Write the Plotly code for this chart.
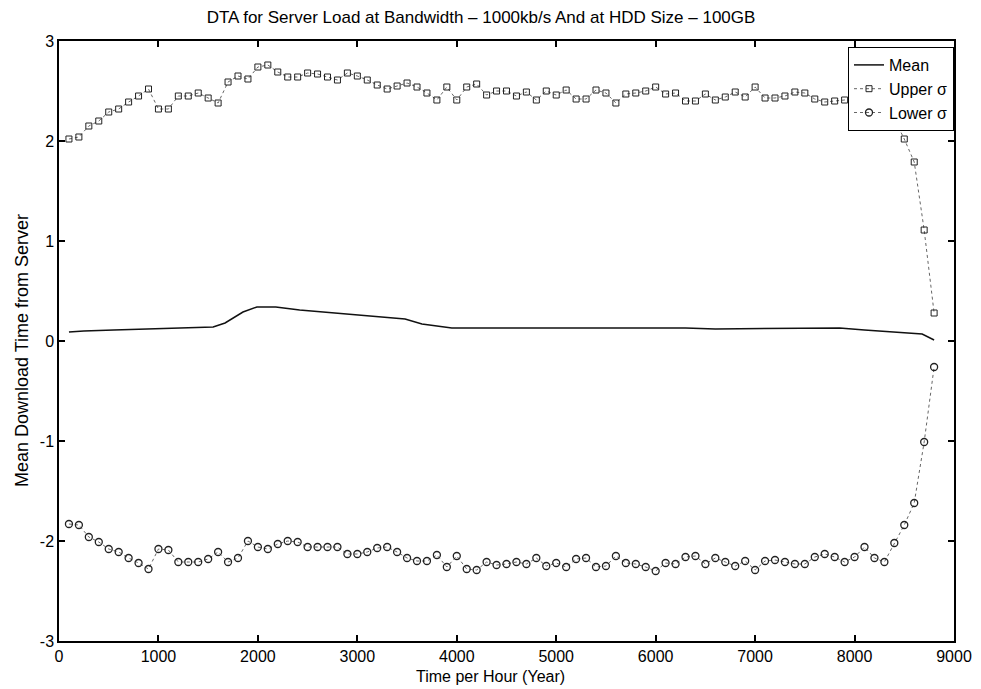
import plotly.graph_objects as go

# x grid of sampled markers (hours)
hours = [100, 200, 300, 400, 500, 600, 700, 800, 900, 1000,
         1100, 1200, 1300, 1400, 1500, 1600, 1700, 1800, 1900, 2000,
         2100, 2200, 2300, 2400, 2500, 2600, 2700, 2800, 2900, 3000,
         3100, 3200, 3300, 3400, 3500, 3600, 3700, 3800, 3900, 4000,
         4100, 4200, 4300, 4400, 4500, 4600, 4700, 4800, 4900, 5000,
         5100, 5200, 5300, 5400, 5500, 5600, 5700, 5800, 5900, 6000,
         6100, 6200, 6300, 6400, 6500, 6600, 6700, 6800, 6900, 7000,
         7100, 7200, 7300, 7400, 7500, 7600, 7700, 7800, 7900, 8000,
         8100, 8200, 8300, 8400, 8500, 8600, 8700, 8800]

upper_sigma = [2.02, 2.04, 2.15, 2.20, 2.29, 2.32, 2.39, 2.45, 2.52, 2.32,
               2.32, 2.45, 2.45, 2.48, 2.43, 2.38, 2.59, 2.65, 2.62, 2.74,
               2.76, 2.69, 2.64, 2.64, 2.68, 2.67, 2.64, 2.61, 2.68, 2.65,
               2.61, 2.56, 2.52, 2.55, 2.58, 2.54, 2.48, 2.41, 2.54, 2.41,
               2.54, 2.57, 2.46, 2.50, 2.50, 2.45, 2.49, 2.41, 2.50, 2.46,
               2.51, 2.42, 2.42, 2.51, 2.48, 2.38, 2.47, 2.48, 2.50, 2.54,
               2.47, 2.48, 2.40, 2.40, 2.47, 2.41, 2.44, 2.49, 2.44, 2.54,
               2.43, 2.43, 2.45, 2.49, 2.48, 2.42, 2.39, 2.40, 2.41, 2.36,
               2.26, 2.37, 2.41, 2.22, 2.02, 1.79, 1.11, 0.28]

lower_sigma = [-1.83, -1.84, -1.96, -2.01, -2.08, -2.11, -2.17, -2.22, -2.28, -2.08,
               -2.09, -2.21, -2.21, -2.21, -2.18, -2.11, -2.21, -2.17, -2.00, -2.06,
               -2.08, -2.03, -2.00, -2.01, -2.06, -2.06, -2.06, -2.06, -2.13, -2.13,
               -2.11, -2.07, -2.06, -2.11, -2.17, -2.20, -2.20, -2.14, -2.26, -2.15,
               -2.28, -2.29, -2.21, -2.24, -2.23, -2.21, -2.23, -2.17, -2.25, -2.22,
               -2.26, -2.18, -2.17, -2.26, -2.25, -2.15, -2.22, -2.23, -2.26, -2.30,
               -2.22, -2.23, -2.16, -2.15, -2.23, -2.17, -2.21, -2.25, -2.20, -2.29,
               -2.20, -2.19, -2.21, -2.23, -2.23, -2.16, -2.13, -2.16, -2.21, -2.16,
               -2.06, -2.17, -2.21, -2.02, -1.84, -1.62, -1.01, -0.26]

mean_hours = [100, 250, 550, 850, 1150, 1550, 1670, 1850, 1990, 2180, 2420, 2770,
              3120, 3480, 3650, 3950, 4550, 6300, 6600, 7850, 8100, 8450, 8680, 8800]
mean_values = [0.09, 0.10, 0.11, 0.12, 0.125, 0.14, 0.18, 0.29, 0.34, 0.34, 0.31, 0.28,
               0.25, 0.22, 0.17, 0.13, 0.13, 0.13, 0.12, 0.13, 0.11, 0.09, 0.07, 0.01]

x_ticks = [0, 1000, 2000, 3000, 4000, 5000, 6000, 7000, 8000, 9000]
y_ticks = [-3, -2, -1, 0, 1, 2, 3]

title_text = "DTA for Server Load at Bandwidth – 1000kb/s And at HDD Size – 100GB"
x_title = "Time per Hour (Year)"
y_title = "Mean Download Time from Server"

FONT = "Liberation Sans, Arial, Helvetica, sans-serif"

fig = go.Figure()
fig.add_trace(go.Scatter(
    x=mean_hours, y=mean_values, name="Mean", mode="lines",
    line=dict(color="#111111", width=1.5)))
fig.add_trace(go.Scatter(
    x=hours, y=upper_sigma, name="Upper σ", mode="lines+markers",
    line=dict(color="#666666", width=1, dash="dot"),
    marker=dict(symbol="square-open", size=6, color="#222222",
                line=dict(width=1, color="#222222"))))
fig.add_trace(go.Scatter(
    x=hours, y=lower_sigma, name="Lower σ", mode="lines+markers",
    line=dict(color="#666666", width=1, dash="dot"),
    marker=dict(symbol="circle-open", size=7, color="#222222",
                line=dict(width=1.3, color="#222222"))))

axis_common = dict(
    showgrid=False, zeroline=False, showline=True, linecolor="black",
    linewidth=1.5, mirror="allticks", ticks="inside", ticklen=6,
    tickcolor="black", tickwidth=1.5,
    tickfont=dict(family=FONT, size=16, color="black"))

fig.update_layout(
    width=981, height=689,
    paper_bgcolor="white", plot_bgcolor="white",
    margin=dict(l=51, r=35, t=33, b=56),
    font=dict(family=FONT, color="black"),
    title=dict(text=title_text,
               x=473 / 981, xanchor="center", y=1 - 9 / 689, yanchor="middle",
               font=dict(family=FONT, size=17, color="black")),
    xaxis=dict(range=[0, 9000], tickvals=x_ticks,
               ticktext=[str(v) for v in x_ticks], **axis_common),
    yaxis=dict(range=[-3, 3], tickvals=y_ticks,
               ticktext=[str(v) for v in y_ticks], **axis_common),
    legend=dict(x=1, y=0.99, xanchor="right", yanchor="top",
                bgcolor="white", bordercolor="black", borderwidth=1,
                font=dict(family=FONT, size=16, color="black"),
                itemwidth=30, tracegroupgap=0),
    showlegend=True,
    annotations=[
        dict(text=x_title, xref="paper", yref="paper", x=431 / 895, y=-35 / 600,
             xanchor="center", yanchor="middle", showarrow=False,
             font=dict(family=FONT, size=16, color="black")),
        dict(text=y_title, xref="paper", yref="paper", x=-37 / 895, y=290 / 600,
             xanchor="center", yanchor="middle", showarrow=False, textangle=-90,
             font=dict(family=FONT, size=18, color="black")),
    ],
)

fig.write_html("out.html")
